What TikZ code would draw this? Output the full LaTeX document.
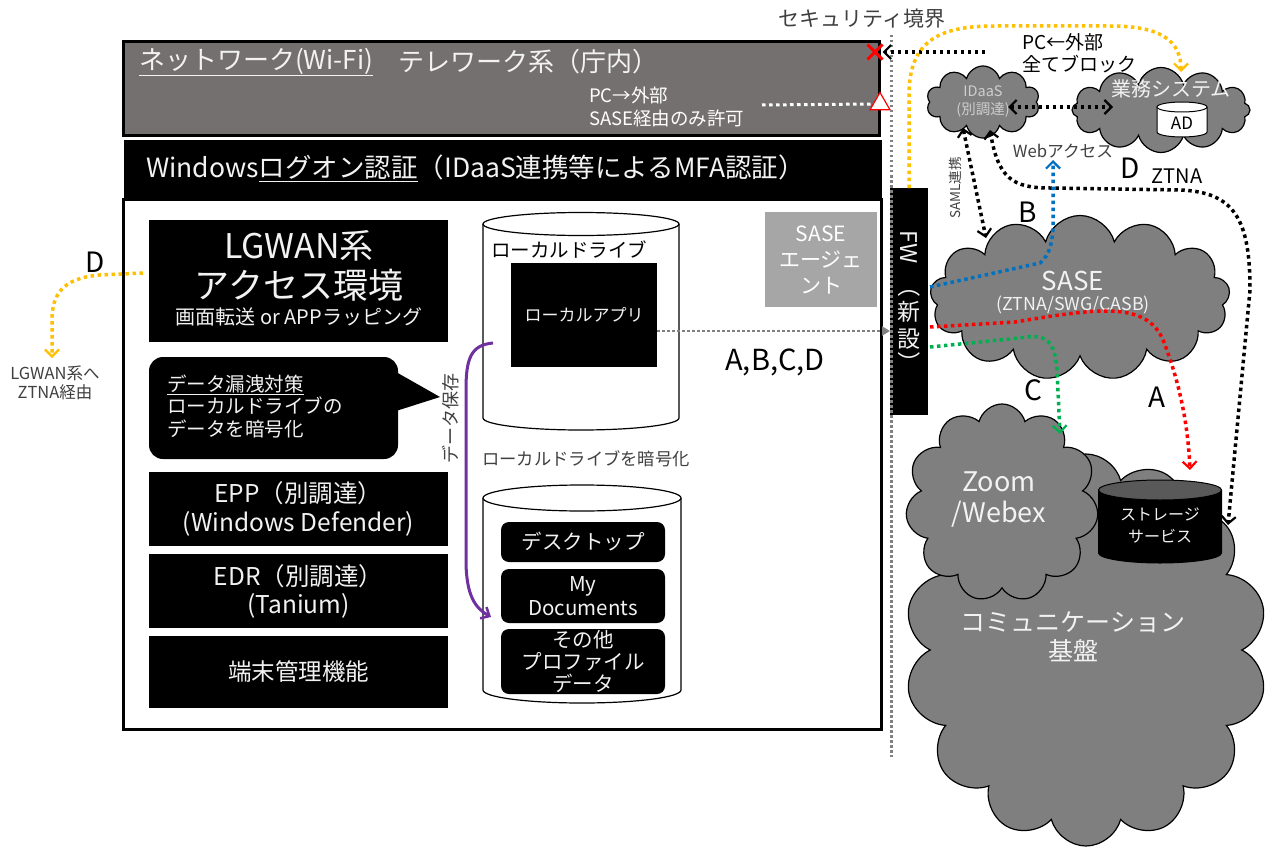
\documentclass[tikz,border=0pt]{standalone}
\usepackage{fontspec}
\setmainfont{Noto Sans CJK JP}
\usetikzlibrary{shapes.symbols,shapes.geometric,shapes.misc,arrows.meta,calc}
\definecolor{hdrgray}{HTML}{757070}
\definecolor{cgray}{HTML}{7F7F7F}
\definecolor{agentgray}{HTML}{A6A6A6}
\definecolor{ylw}{HTML}{FFC000}
\definecolor{blu}{HTML}{0070C0}
\definecolor{grn}{HTML}{00B050}
\definecolor{prp}{HTML}{7030A0}
\definecolor{ltxt}{HTML}{F2F2F2}
\definecolor{dgray}{HTML}{404040}
\definecolor{topgray}{HTML}{595959}
\definecolor{sbgray}{HTML}{808080}
\newcommand\myfs[2]{\fontsize{#1}{#2}\selectfont}
\begin{document}
\begin{tikzpicture}[x=1pt,y=-1pt,
  every node/.style={inner sep=0pt, outer sep=0pt},
  blackbox/.style={fill=black, text=ltxt, align=center, anchor=north west},
  cloudsh/.style={cloud, cloud puffs=#1, cloud ignores aspect, draw=black, line width=1.2pt, fill=cgray},
  cloudsh/.default=11,
  dotline/.style={line width=3.5pt, dash pattern=on 3.5pt off 3.5pt},
  tipb/.tip={Straight Barb[length=7pt,width=14pt,line width=2.2pt]},
  lbl/.style={font=\myfs{28}{32}, text=black},
]
\useasboundingbox (0,0) rectangle (1269,848);
\fill[white] (0,0) rectangle (1269,848);

% ---------------- PC frame ----------------
\node[draw=black, line width=3pt, fill=white, minimum width=758pt, minimum height=530pt, anchor=north west] (pc) at (123.5,199) {};
\node[draw=black, line width=3pt, fill=hdrgray, minimum width=756pt, minimum height=94pt, anchor=north west] (hdr) at (123.5,41.5) {};
\node[fill=black, minimum width=758pt, minimum height=57pt, anchor=north west] (win) at (124,140.5) {};

\node[anchor=west, text=ltxt, font=\myfs{26}{30}] (nwtxt) at (139,62) {\underline{ネットワーク(Wi-Fi)}};
\node[anchor=west, text=ltxt, font=\myfs{26}{30}] (telew) at (398,62) {テレワーク系（庁内）};
\node[anchor=west, text=white, align=left, font=\myfs{18.5}{23}] (pcout) at (589,107) {PC→外部\\SASE経由のみ許可};
\node[anchor=west, text=ltxt, font=\myfs{26.5}{30}] (wintxt) at (146,168) {Windows\underline{ログオン認証}（IDaaS連携等によるMFA認証）};

\node[regular polygon, regular polygon sides=3, draw=red, fill=white, line width=1.2pt, minimum size=23pt] (tri) at (880,104) {};
\node[cross out, draw=red, line width=3pt, minimum size=15pt] (xmark) at (875,52) {};
\coordinate (wstart) at (762,105);
\draw[white, dotline, line width=3pt] (wstart) -- (tri.west);

% left column boxes
\node[blackbox, minimum width=299pt, minimum height=122pt] (lgwan) at (149,220) {};
\node[text=ltxt, font=\myfs{34}{38}] (lg1) at (299,246) {LGWAN系};
\node[text=ltxt, font=\myfs{35}{38}] (lg2) at (299,285) {アクセス環境};
\node[text=ltxt, font=\myfs{20}{24}] (lg3) at (299,317) {画面転送 or APPラッピング};

\node[fill=black, rounded corners=14pt, minimum width=249pt, minimum height=102pt, anchor=north west] (bubble) at (149,357) {};
\coordinate (btip) at (440,397);
\fill[black] (396,372) -- (btip) -- (396,411) -- cycle;
\node[anchor=west, align=left, text=ltxt, font=\myfs{19.5}{22.5}] (bubtxt) at (167,406) {\underline{データ漏洩対策}\\ローカルドライブの\\データを暗号化};

\node[blackbox, minimum width=299pt, minimum height=74pt, font=\myfs{24.5}{29}] (epp) at (149,472) {EPP（別調達）\\(Windows Defender)};
\node[blackbox, minimum width=299pt, minimum height=74pt, font=\myfs{24.5}{28}] (edr) at (149,554) {EDR（別調達）\\(Tanium)};
\node[blackbox, minimum width=299pt, minimum height=72pt, font=\myfs{23.5}{28}] (mgmt) at (149,636) {端末管理機能};

% local drive cylinder
\filldraw[fill=white, draw=black, line width=1.2pt] (483,224) -- (483,418) .. controls (483,424.6) and (527,430) .. (581,430) .. controls (635,430) and (679,424.6) .. (679,418) -- (679,224);
\filldraw[fill=white, draw=black, line width=1.2pt] (581,224) ellipse [x radius=98pt, y radius=11.5pt];
\node[font=\myfs{19.5}{22}] (ldtxt) at (569,250) {ローカルドライブ};
\node[blackbox, minimum width=146pt, minimum height=104pt, font=\myfs{17}{20}] (lapp) at (511,263) {ローカルアプリ};
\node[text=dgray, font=\myfs{17.3}{20}] (enc) at (586,459) {ローカルドライブを暗号化};

% profile cylinder
\filldraw[fill=white, draw=black, line width=1.2pt] (483,498) -- (483,690) .. controls (483,697.2) and (527.3,703) .. (582,703) .. controls (636.7,703) and (681,697.2) .. (681,690) -- (681,498);
\filldraw[fill=white, draw=black, line width=1.2pt] (582,498) ellipse [x radius=99pt, y radius=13pt];
\node[blackbox, rounded corners=8pt, minimum width=164pt, minimum height=40pt, font=\myfs{20.5}{22}] (desk) at (501,522) {デスクトップ};
\node[blackbox, rounded corners=8pt, minimum width=164pt, minimum height=54pt, font=\myfs{20.5}{24}] (mydoc) at (501,569) {My\\Documents};
\node[blackbox, rounded corners=8pt, minimum width=164pt, minimum height=65pt, font=\myfs{20.5}{22}] (other) at (501,629) {その他\\プロファイル\\データ};

% data save arrow
\coordinate (pend) at (491,617);
\draw[prp, line width=3pt, -{Straight Barb[length=7pt,width=13pt,line width=2.5pt]}] ($(lapp.west)+(-18,28)$) .. controls (470,345) and (466,360) .. (466,390) -- (466,560) .. controls (466,595) and (475,608) .. (pend);
\node[rotate=90, text=dgray, font=\myfs{18}{20}] (dsave) at (451,418) {データ保存};

% SASE agent
\node[fill=agentgray, text=white, align=center, minimum width=112pt, minimum height=95pt, font=\myfs{21}{26}] (agent) at (821,259.5) {SASE\\エージェ\\ント};

% FW
\node[fill=black, minimum width=38pt, minimum height=227pt, anchor=north west] (fw) at (890,188) {};
\node[rotate=-90, text=ltxt, font=\myfs{23}{26}] (fw1) at (909,247) {FW};
\node[rotate=-90, text=ltxt, font=\myfs{23}{26}] (fw2) at (909,286) {（};
\node[text=ltxt, font=\myfs{23}{26}] (fw3) at (909,312) {新};
\node[text=ltxt, font=\myfs{23}{26}] (fw4) at (909,339) {設};
\node[rotate=-90, text=ltxt, font=\myfs{23}{26}] (fw5) at (909,363) {）};

% security boundary
\coordinate (sbtop) at (891,35);
\coordinate (sbbot) at (891,757);
\draw[sbgray, line width=3pt, dash pattern=on 2.5pt off 2.5pt] (sbtop) -- (sbbot);
\node[font=\myfs{21}{24}, text=dgray] (sblabel) at (862,19) {セキュリティ境界};

% gray connector
\coordinate (gstart) at ($(lapp.east)+(0,16)$);
\draw[sbgray, line width=2.5pt, dash pattern=on 2.5pt off 2.5pt, -{Triangle[length=8pt,width=9pt]}] (gstart) -- (gstart -| fw.west);
\node[lbl, font=\myfs{29}{32}] (abcd) at (775,362) {A,B,C,D};

% ---------------- clouds ----------------
\node[cloudsh=14, minimum width=363pt, minimum height=392pt] (comm) at (1086,650) {};
\node[text=ltxt, font=\myfs{25}{28}] (comm1) at (1073,622) {コミュニケーション};
\node[text=ltxt, font=\myfs{25}{28}] (comm2) at (1073,651) {基盤};
\node[cloudsh=11, minimum width=193pt, minimum height=198pt] (zoom) at (1002,503) {};
\node[text=ltxt, font=\myfs{27}{31}, align=center] (zoomtxt) at (999,500) {Zoom\\/Webex};

% storage cylinder
\filldraw[fill=black, draw=black, line width=1pt] (1098.5,490) -- (1098.5,553) .. controls (1098.5,558.5) and (1126.5,563) .. (1160,563) .. controls (1193.5,563) and (1221.5,558.5) .. (1221.5,553) -- (1221.5,490);
\filldraw[fill=topgray, draw=black, line width=1pt] (1160,490) ellipse [x radius=61.5pt, y radius=10pt];
\node[text=ltxt, font=\myfs{16}{22}, align=center] (stor) at (1160,526) {ストレージ\\サービス};

\node[cloudsh=10, minimum width=113pt, minimum height=72pt, text=ltxt!85!black, align=center, font=\myfs{14.5}{18}] (idaas) at (983,102) {IDaaS\\(別調達)};
\node[cloudsh=12, minimum width=178pt, minimum height=85pt] (biz) at (1161,110) {};
\node[text=ltxt, font=\myfs{20}{22}] (biztxt) at (1171,89) {業務システム};
\filldraw[fill=white, draw=black, line width=1pt] (1157,107) -- (1157,132) .. controls (1157,134.8) and (1168.2,137) .. (1182,137) .. controls (1195.8,137) and (1207,134.8) .. (1207,132) -- (1207,107);
\filldraw[fill=white, draw=black, line width=1pt] (1182,107) ellipse [x radius=25pt, y radius=5pt];
\node[font=\myfs{17}{20}] (adtxt) at (1182,123) {AD};

\node[cloudsh=13, minimum width=300pt, minimum height=165pt] (sase) at (1080,298) {};
\node[text=ltxt, font=\myfs{26}{30}] (sasetxt) at (1073,281) {SASE};
\node[text=ltxt, font=\myfs{17.8}{20}] (sasesub) at (1073,305) {(ZTNA/SWG/CASB)};

% ---------------- connectors ----------------
\coordinate (blkstart) at (985,52);
\draw[dotline, -tipb] (blkstart) -- (xmark.east);
\node[anchor=west, align=left, font=\myfs{19}{22}] (pcin) at (1022,53) {PC←外部\\全てブロック};

\coordinate (biztop) at (1181,72);
\draw[ylw, dotline, -tipb] (fw.north) -- (909,95) .. controls (909,40) and (940,26) .. (995,26) -- (1110,26) .. controls (1160,26) and (1181,40) .. (biztop);

\coordinate (idr) at (1008,107);
\coordinate (bizl) at (1113,107);
\draw[dotline, tipb-tipb] (idr) -- (bizl);

\coordinate (samlt) at (963,128);
\coordinate (samlb) at (986,238);
\draw[dotline, tipb-tipb] (samlt) -- (samlb);
\node[rotate=90, font=\myfs{13.5}{16}, text=dgray] (samltxt) at (955,188) {SAML連携};

\coordinate (ztop) at (990,130);
\coordinate (zbot) at (1228,525);
\draw[dotline, tipb-tipb] (ztop) .. controls (998,178) and (1012,188) .. (1050,188) -- (1180,190) .. controls (1235,192) and (1250,220) .. (1250,290) -- (zbot);
\node[lbl] (dlbl) at (1130,168) {D};
\node[font=\myfs{20}{22}] (ztna) at (1177,176) {ZTNA};

\coordinate (webtip) at (1053,160);
\draw[blu, dotline, -tipb] ($(fw.north east)+(2,99)$) -- (1040,263) .. controls (1050,255) and (1053,240) .. (1053,225) -- (webtip);
\node[text=dgray, font=\myfs{16.7}{20}] (webtxt) at (1063,151) {Webアクセス};
\node[lbl] (blbl) at (1028,212) {B};

\coordinate (stortop) at (1190,470);
\draw[red, dotline, -tipb] ($(fw.north east)+(2,139)$) -- (1015,322) .. controls (1100,308) and (1150,300) .. (1165,345) .. controls (1180,385) and (1188,425) .. (stortop);
\node[lbl] (albl) at (1157,397) {A};

\coordinate (zoomtip) at (1060,434);
\draw[grn, dotline, -tipb] ($(fw.north east)+(2,159)$) -- (1020,338) .. controls (1045,333) and (1055,340) .. (1057,370) -- (zoomtip);
\node[lbl] (clbl) at (1033,390) {C};

% LGWAN via ZTNA
\coordinate (ldtip) at (52,358);
\draw[ylw, dotline, -tipb] ($(lgwan.west)+(-6,-8)$) -- (100,275) .. controls (62,278) and (52,295) .. (52,320) -- (ldtip);
\node[lbl] (dlbl2) at (95,262) {D};
\node[text=dgray, align=center, font=\myfs{16.5}{19.5}] (lgz) at (55,383) {LGWAN系へ\\ZTNA経由};
\end{tikzpicture}
\end{document}
